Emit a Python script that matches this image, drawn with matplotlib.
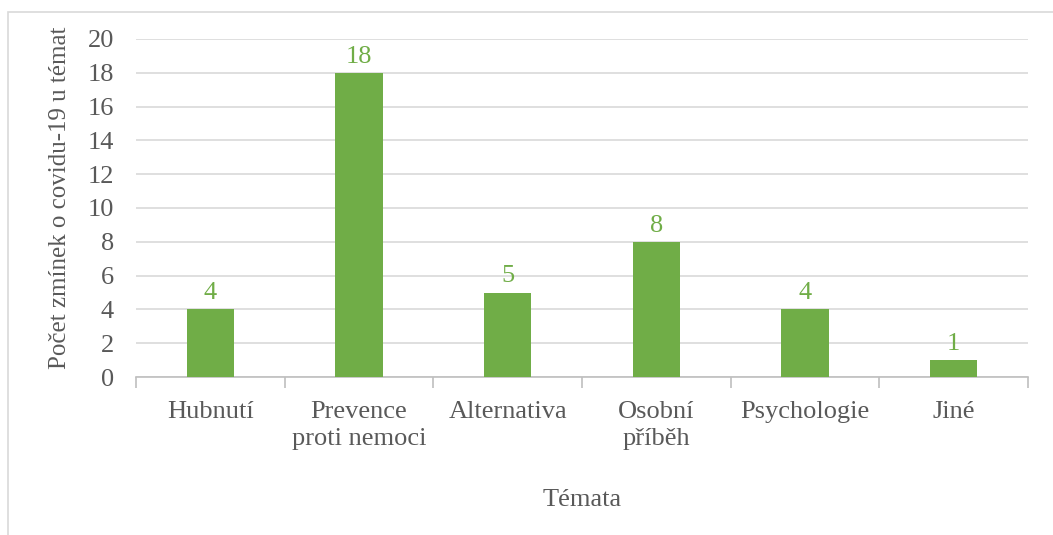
import numpy as np
import matplotlib.pyplot as plt
from matplotlib.patches import Rectangle

categories = ['Hubnutí', 'Prevence\nproti nemoci', 'Alternativa', 'Osobní\npříběh', 'Psychologie', 'Jiné']
values = [4, 18, 5, 8, 4, 1]
y_ticks = [0, 2, 4, 6, 8, 10, 12, 14, 16, 18, 20]

green = '#70AD47'
text_gray = '#595959'
grid_gray = '#D9D9D9'
fs = 19

plt.rcParams['font.family'] = ['Liberation Serif', 'DejaVu Serif']

W, H = 1053, 535
fig = plt.figure(figsize=(W / 100, H / 100), dpi=100)

# outer chart border (only left and top edges fall inside the picture)
fig.patches.append(Rectangle((8 / W, -0.1), 1.2, 1.1 - 12 / H, transform=fig.transFigure,
                             fill=False, edgecolor=grid_gray, linewidth=1.2))

ax = fig.add_axes([136 / W, 1 - 377 / H, (1028 - 136) / W, (377 - 39) / H])

x = np.arange(len(categories))
bars = ax.bar(x, values, width=0.32, color=green, zorder=3)

for xi, v in zip(x, values):
    ax.text(xi, v + 0.3, str(v), ha='center', va='bottom', color=green, fontsize=fs)

ax.set_xlim(-0.5, len(categories) - 0.5)
ax.set_ylim(0, 20)
ax.set_yticks(y_ticks)
ax.set_yticklabels([str(t) for t in y_ticks], fontsize=fs, color=text_gray)
ax.yaxis.grid(True, color=grid_gray, linewidth=1.2, zorder=0)
ax.tick_params(axis='y', length=0, pad=16)

# category labels plus tick marks at category boundaries
ax.set_xticks(x)
ax.set_xticklabels(categories, fontsize=fs, color=text_gray, linespacing=1.3)
ax.tick_params(axis='x', which='major', length=0, pad=17)
ax.set_xticks(np.arange(-0.5, len(categories)), minor=True)
ax.tick_params(axis='x', which='minor', length=8, color='#BFBFBF', width=1.2)

for side in ['top', 'right', 'left']:
    ax.spines[side].set_visible(False)
ax.spines['bottom'].set_color('#BFBFBF')
ax.spines['bottom'].set_linewidth(1.2)

ax.set_ylabel('Počet zmínek o covidu-19 u témat', fontsize=18, color=text_gray)
ax.yaxis.set_label_coords(-0.073, 0.53)
ax.set_xlabel('Témata', fontsize=fs, color=text_gray, labelpad=28)

fig.savefig('out.png', dpi=100)
